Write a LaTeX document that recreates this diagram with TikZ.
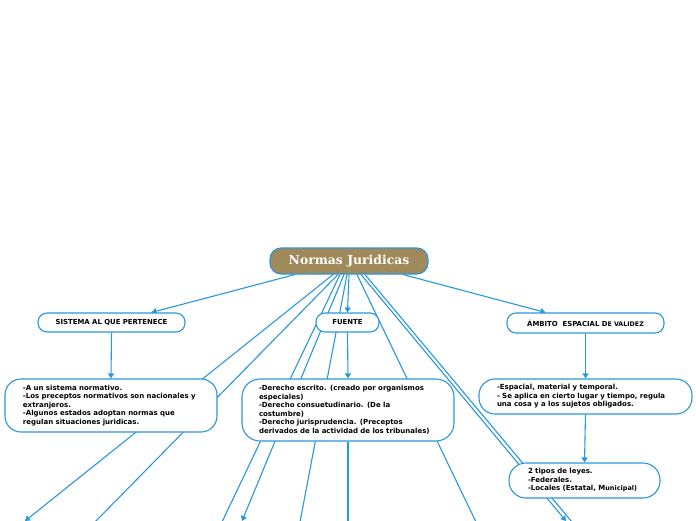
\documentclass[tikz,border=0pt]{standalone}
\usepackage{fontspec}
\setmainfont{DejaVu Sans}
\newfontfamily\rootfont{DejaVu Serif}
\usetikzlibrary{arrows.meta,backgrounds}
\definecolor{mmblue}{RGB}{40,152,220}
\definecolor{mmbrown}{RGB}{160,137,90}
\begin{document}
\begin{tikzpicture}[x=1pt,y=-1pt,
 conn/.style={draw=mmblue,line width=1.1pt},
 arr/.style={conn,-{Triangle[length=5pt,width=6pt]}},
 head/.style={draw=mmblue,line width=1.1pt,fill=white,rounded corners=9pt,font=\bfseries\fontsize{6.9}{8}\selectfont,inner sep=0pt,align=center},
 body/.style={draw=mmblue,line width=1.1pt,fill=white,font=\bfseries\fontsize{7}{8.5}\selectfont,align=left,inner ysep=0pt}
]
\useasboundingbox (0,0) rectangle (696,520);
% nodes
\node[draw=mmblue,line width=1.1pt,fill=mmbrown,rounded corners=11pt,minimum width=158pt,minimum height=26pt,inner sep=0pt,text=white,font=\rootfont\bfseries\fontsize{12.4}{14}\selectfont] (root) at (349,261) {Normas Juridicas};
\node[head,minimum width=147pt,minimum height=19pt] (sis) at (111.5,322.5) {SISTEMA AL QUE PERTENECE};
\node[head,minimum width=63pt,minimum height=19pt] (fue) at (347.5,322.5) {FUENTE};
\node[head,minimum width=157pt,minimum height=20pt] (amb) at (585.5,323) {ÁMBITO~~ESPACIAL D{\fontsize{6.3}{8}\selectfont E VALIDEZ}};
\node[body,text width=176pt,inner xsep=18pt,minimum height=53pt,rounded corners=16pt] (b1) at (111,405.5) {-A un sistema normativo.\\-Los preceptos normativos son nacionales y\\extranjeros.\\-Algunos estados adoptan normas que\\regulan situaciones juridicas.};
\node[body,text width=178pt,inner xsep=17pt,minimum height=62pt,rounded corners=18pt] (b2) at (348,410) {-Derecho escrito. (creado por organismos\\especiales)\\-Derecho consuetudinario. (De la\\costumbre)\\-Derecho jurisprudencia. (Preceptos\\derivados de la actividad de los tribunales)};
\node[body,text width=177pt,inner xsep=18pt,minimum height=35pt,rounded corners=16pt] (b3) at (585.5,396.5) {-Espacial, material y temporal.\\- Se aplica en cierto lugar y tiempo, regula\\una cosa y a los sujetos obligados.};
\node[body,text width=113pt,inner xsep=19pt,minimum height=35pt,rounded corners=17pt] (b4) at (584.5,480.5) {2 tipos de leyes.\\-Federales.\\-Locales (Estatal, M{\fontsize{6.5}{8.5}\selectfont unicipal)}};
% off-canvas ends
\coordinate (eA) at (25,521);
\coordinate (eB) at (95,522);
\coordinate (eC) at (222,522);
\coordinate (eD) at (242,521);
\coordinate (eE) at (300,522);
\coordinate (eV) at (348,522);
\coordinate (eF) at (476,522);
\coordinate (eG1) at (566,521);
\coordinate (eG2) at (572,522);
\begin{scope}[on background layer]
\fill[white] (0,0) rectangle (696,520);
\draw[arr] ([xshift=-54pt]root.south) -- ([xshift=40pt]sis.north);
\draw[arr] ([xshift=54pt]root.south) -- ([xshift=-40pt]amb.north);
\draw[arr] (root.south) -- (fue.north);
\draw[arr] (fue.south) -- (b2.north);
\draw[arr] (sis.south) -- (b1.north);
\draw[arr] (amb.south) -- (b3.north);
\draw[arr] (b3.south) -- (b4.north);
\draw[arr] ([xshift=-16pt]root.south) -- (eA);
\draw[conn] ([xshift=-11pt]root.south) -- (eB);
\draw[conn] ([xshift=-9pt]root.south) -- (eC);
\draw[arr] ([xshift=-5pt]root.south) -- (eD);
\draw[conn] ([xshift=-2pt]root.south) -- (eE);
\draw[conn] (b2.south) -- (eV);
\draw[conn] ([xshift=8pt]root.south) -- (eF);
\draw[arr] ([xshift=12pt]root.south) -- (eG1);
\draw[conn] ([xshift=16pt]root.south) -- (eG2);
\end{scope}
\end{tikzpicture}
\end{document}
